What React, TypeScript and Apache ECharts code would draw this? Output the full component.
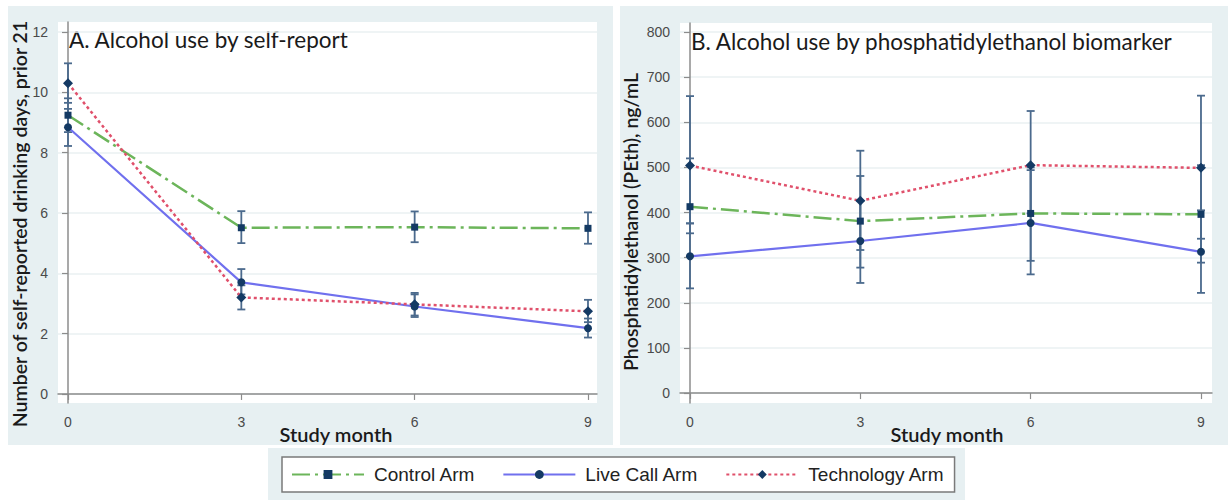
import React, { useEffect, useRef } from "react";
import * as echarts from "echarts";

// ---------- data ----------
const months = [0, 3, 6, 9];
const armNames = ["Control Arm", "Live Call Arm", "Technology Arm"];

// Panel A: self-reported drinking days (prior 21)
const selfControl = [9.24, 5.51, 5.53, 5.49];
const selfControlLo = [8.68, 5.0, 5.03, 4.98];
const selfControlHi = [9.8, 6.06, 6.05, 6.02];
const selfLive = [8.84, 3.7, 2.9, 2.18];
const selfLiveLo = [8.22, 3.3, 2.55, 1.87];
const selfLiveHi = [9.45, 4.14, 3.3, 2.5];
const selfTech = [10.3, 3.2, 2.97, 2.74];
const selfTechLo = [9.65, 2.8, 2.6, 2.38];
const selfTechHi = [10.96, 3.6, 3.35, 3.12];

// Panel B: PEth ng/mL
const pethControl = [413, 381, 398, 396];
const pethControlLo = [354, 278, 293, 289];
const pethControlHi = [520, 481, 494, 505];
const pethLive = [303, 337, 377, 313];
const pethLiveLo = [232, 244, 263, 222];
const pethLiveHi = [376, 426, 500, 405];
const pethTech = [504, 426, 505, 499];
const pethTechLo = [376, 317, 398, 342];
const pethTechHi = [658, 537, 625, 659];

const monthTicks = [0, 3, 6, 9];
const selfTicks = [0, 2, 4, 6, 8, 10, 12];
const pethTicks = [0, 100, 200, 300, 400, 500, 600, 700, 800];

const titleA = "A. Alcohol use by self-report";
const titleB = "B. Alcohol use by phosphatidylethanol biomarker";
const yNameA = "Number of self-reported drinking days, prior 21";
const yNameB = "Phosphatidylethanol (PEth), ng/mL";
const xName = "Study month";

// ---------- style ----------
const W = 1228;
const H = 500;
const PANEL = "#e7f0f2";
const NAVY = "#143a64";
const ERR = "#4b6a8d";
const AXIS = "#8c8c8c";
const TICKFONT = "'Liberation Sans', Arial, sans-serif";
const TITLEFONT = "Lato, 'Open Sans', sans-serif";

const armStyles = [
  { color: "#6cb55a", width: 2.5, type: [18, 5, 3, 5] as any, symbol: "rect", size: 7 },
  { color: "#7070ee", width: 2.2, type: "solid" as any, symbol: "circle", size: 8 },
  { color: "#e0506b", width: 2.5, type: [3, 3] as any, symbol: "diamond", size: 10 },
];

function lineSeries(armIdx: number, vals: number[], gi: number) {
  const s = armStyles[armIdx];
  return {
    type: "line",
    name: armNames[armIdx],
    xAxisIndex: gi,
    yAxisIndex: gi,
    data: months.map((m, i) => [m, vals[i]]),
    symbol: s.symbol,
    symbolSize: s.size,
    itemStyle: { color: NAVY },
    lineStyle: { color: s.color, width: s.width, type: s.type },
    z: 4,
    silent: true,
  };
}

function errSeries(armIdx: number, lo: number[], hi: number[], gi: number) {
  return {
    type: "custom",
    name: armNames[armIdx] + " CI",
    xAxisIndex: gi,
    yAxisIndex: gi,
    data: months.map((m, i) => [m, lo[i], hi[i]]),
    encode: { x: 0, y: [1, 2] },
    z: 3,
    silent: true,
    renderItem: (_params: any, api: any) => {
      const x = api.value(0);
      const p1 = api.coord([x, api.value(1)]);
      const p2 = api.coord([x, api.value(2)]);
      const w = 4;
      const style = { stroke: ERR, lineWidth: 1.8, fill: "none" };
      return {
        type: "group",
        children: [
          { type: "line", shape: { x1: p1[0], y1: p1[1], x2: p2[0], y2: p2[1] }, style },
          { type: "line", shape: { x1: p1[0] - w, y1: p1[1], x2: p1[0] + w, y2: p1[1] }, style },
          { type: "line", shape: { x1: p2[0] - w, y1: p2[1], x2: p2[0] + w, y2: p2[1] }, style },
        ],
      };
    },
  };
}

function xAxisCfg(gi: number, min: number, max: number) {
  return {
    gridIndex: gi,
    type: "value",
    min,
    max,
    axisLine: { show: true, lineStyle: { color: AXIS, width: 1.5 } },
    axisTick: { show: true, customValues: monthTicks, length: 6, lineStyle: { color: AXIS, width: 1.2 } },
    axisLabel: { customValues: monthTicks, fontSize: 14, color: "#4a4a4a", margin: 12, fontFamily: TICKFONT },
    splitLine: { show: false },
  };
}

function yAxisCfg(gi: number, min: number, max: number, ticks: number[]) {
  return {
    gridIndex: gi,
    type: "value",
    min,
    max,
    axisLine: { show: true, lineStyle: { color: AXIS, width: 1.5 } },
    axisTick: { show: true, customValues: ticks, length: 6, lineStyle: { color: AXIS, width: 1.2 } },
    axisLabel: { customValues: ticks, fontSize: 14, color: "#4a4a4a", margin: 10, fontFamily: TICKFONT },
    splitLine: { show: true, lineStyle: { color: "#eaf0f2", width: 1.5 } },
  };
}

function txt(text: string, x: number, y: number, size: number, align: string, extra: any = {}) {
  return {
    type: "text",
    x,
    y,
    silent: true,
    style: {
      text,
      fill: "#1a1a1a",
      fontSize: size,
      fontFamily: TITLEFONT,
      fontWeight: extra.weight || "normal",
      align,
      verticalAlign: "middle",
    },
    rotation: extra.rotation || 0,
  };
}

export default function App() {
  const ref = useRef<HTMLDivElement>(null);
  useEffect(() => {
    document.body.style.margin = "0";
    const chart = echarts.init(ref.current!, null, { renderer: "svg" });
    const option: any = {
      animation: false,
      backgroundColor: "transparent",
      grid: [
        { left: 58, top: 22, width: 539, height: 381, show: true, backgroundColor: "#fff", borderWidth: 0 },
        { left: 680, top: 23, width: 532, height: 380, show: true, backgroundColor: "#fff", borderWidth: 0 },
      ],
      xAxis: [xAxisCfg(0, -0.173, 9.156), xAxisCfg(1, -0.176, 9.194)],
      yAxis: [yAxisCfg(0, -0.3, 12.33, selfTicks), yAxisCfg(1, -22, 820, pethTicks)],
      legend: {
        data: armNames,
        left: 282,
        top: 457,
        orient: "horizontal",
        itemWidth: 72,
        itemHeight: 11,
        itemGap: 27,
        padding: [8, 10, 8, 9],
        borderColor: "#7a7a7a",
        borderWidth: 1.5,
        backgroundColor: "#fff",
        selectedMode: false,
        textStyle: { fontSize: 19, color: "#222", fontFamily: TICKFONT, padding: [0, 0, 0, 5] },
      },
      graphic: [
        txt(titleA, 69, 39, 22.5, "left"),
        txt(titleB, 691, 41, 22.5, "left"),
        txt(yNameA, 19, 224, 19.5, "center", { rotation: Math.PI / 2, weight: 600 }),
        txt(yNameB, 630, 222, 19.5, "center", { rotation: Math.PI / 2, weight: 600 }),
        txt(xName, 336, 434, 20, "center", { weight: 600 }),
        txt(xName, 947, 434, 20, "center", { weight: 600 }),
      ],
      series: [
        errSeries(0, selfControlLo, selfControlHi, 0),
        errSeries(1, selfLiveLo, selfLiveHi, 0),
        errSeries(2, selfTechLo, selfTechHi, 0),
        lineSeries(0, selfControl, 0),
        lineSeries(1, selfLive, 0),
        lineSeries(2, selfTech, 0),
        errSeries(0, pethControlLo, pethControlHi, 1),
        errSeries(1, pethLiveLo, pethLiveHi, 1),
        errSeries(2, pethTechLo, pethTechHi, 1),
        lineSeries(0, pethControl, 1),
        lineSeries(1, pethLive, 1),
        lineSeries(2, pethTech, 1),
      ],
    };
    chart.setOption(option);
    return () => chart.dispose();
  }, []);
  return (
    <div style={{ position: "relative", width: W, height: H, background: "#fff", overflow: "hidden" }}>
      <div style={{ position: "absolute", left: 8, top: 6, width: 605, height: 439, background: PANEL }} />
      <div style={{ position: "absolute", left: 620, top: 6, width: 608, height: 439, background: PANEL }} />
      <div style={{ position: "absolute", left: 268, top: 448, width: 697, height: 52, background: PANEL }} />
      <div ref={ref} style={{ position: "absolute", left: 0, top: 0, width: W, height: H }} />
    </div>
  );
}
